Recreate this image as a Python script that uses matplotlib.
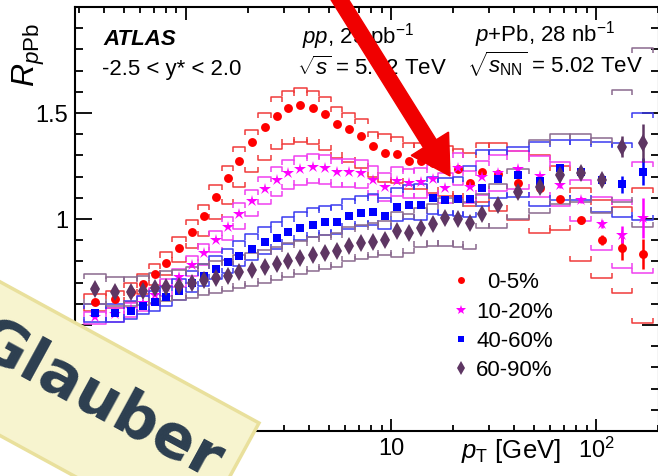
import numpy as np
import matplotlib
matplotlib.use("Agg")
import matplotlib.pyplot as plt
from matplotlib.collections import LineCollection
from matplotlib.patches import Polygon, FancyArrow
from matplotlib.transforms import IdentityTransform
from matplotlib.ticker import FixedLocator, FixedFormatter, NullFormatter

plt.rcParams['font.family'] = ['Liberation Sans', 'DejaVu Sans']
plt.rcParams['mathtext.fontset'] = 'custom'
plt.rcParams['mathtext.rm'] = 'Liberation Sans'
plt.rcParams['mathtext.it'] = 'Liberation Sans:italic'
plt.rcParams['mathtext.bf'] = 'Liberation Sans:bold'

# ---------------- data ----------------
pt_edges = [0.32, 0.41, 0.5, 0.58, 0.66, 0.75, 0.86, 1.0, 1.15, 1.3, 1.5, 1.7, 1.95, 2.25,
            2.6, 2.95, 3.35, 3.9, 4.45, 5.1, 5.8, 6.7, 7.7, 8.7, 10, 11.5, 13, 15, 17, 20,
            22.5, 26, 30, 37, 47, 60, 75, 95, 120, 150, 190]

labels = ['0-5%', '10-20%', '40-60%', '60-90%']

r_0_5 = [0.607, 0.621, 0.656, 0.693, 0.741, 0.791, 0.862, 0.940, 1.014, 1.105, 1.192, 1.274,
         1.361, 1.434, 1.486, 1.524, 1.538, 1.524, 1.495, 1.446, 1.426, 1.392, 1.344, 1.310,
         1.305, 1.272, 1.274, 1.264, 1.250, 1.236, 1.170, 1.220, 1.212, 1.168, 1.145, 1.093,
         0.993, 0.901, 0.862, 0.835]
hi_0_5 = [0.646, 0.662, 0.700, 0.740, 0.790, 0.842, 0.915, 0.995, 1.066, 1.160, 1.250, 1.340,
          1.420, 1.500, 1.575, 1.605, 1.617, 1.605, 1.577, 1.528, 1.500, 1.470, 1.412, 1.400,
          1.385, 1.360, 1.360, 1.345, 1.345, 1.330, 1.310, 1.358, 1.358, 1.320, 1.300, 1.250,
          1.145, 1.090, 1.058, 1.145]
lo_0_5 = [0.565, 0.578, 0.610, 0.645, 0.690, 0.735, 0.795, 0.865, 0.920, 1.000, 1.070, 1.150,
          1.220, 1.280, 1.330, 1.355, 1.365, 1.355, 1.325, 1.290, 1.270, 1.240, 1.200, 1.175,
          1.170, 1.140, 1.140, 1.125, 1.110, 1.100, 1.060, 1.080, 1.040, 0.995, 0.932, 0.950,
          0.800, 0.720, 0.650, 0.510]
st_0_5 = [0.0] * 30 + [0.004, 0.005, 0.006, 0.008, 0.010, 0.012, 0.015, 0.025, 0.055, 0.070]

r_10_20 = [0.539, 0.552, 0.575, 0.605, 0.641, 0.680, 0.725, 0.783, 0.838, 0.901, 0.964, 1.024,
           1.085, 1.142, 1.184, 1.215, 1.237, 1.244, 1.239, 1.223, 1.223, 1.218, 1.184, 1.152,
           1.180, 1.171, 1.173, 1.187, 1.145, 1.239, 1.152, 1.197, 1.216, 1.234, 1.203, 1.160,
           1.090, 0.976, 0.925, 1.003]
hi_10_20 = [0.563, 0.578, 0.603, 0.635, 0.675, 0.715, 0.762, 0.825, 0.880, 0.945, 1.010, 1.075,
            1.138, 1.198, 1.245, 1.278, 1.298, 1.305, 1.300, 1.285, 1.285, 1.280, 1.248, 1.215,
            1.245, 1.238, 1.240, 1.255, 1.215, 1.310, 1.225, 1.275, 1.300, 1.320, 1.295, 1.270,
            1.184, 1.105, 1.090, 1.270]
lo_10_20 = [0.505, 0.515, 0.540, 0.565, 0.600, 0.635, 0.680, 0.730, 0.785, 0.845, 0.900, 0.955,
            1.015, 1.070, 1.110, 1.140, 1.160, 1.168, 1.165, 1.150, 1.150, 1.145, 1.115, 1.085,
            1.110, 1.100, 1.100, 1.115, 1.075, 1.160, 1.075, 1.115, 1.130, 1.140, 1.105, 1.060,
            0.990, 0.854, 0.770, 0.745]
st_10_20 = [0.0] * 30 + [0.004, 0.005, 0.006, 0.008, 0.010, 0.012, 0.015, 0.020, 0.040, 0.094]

r_40_60 = [0.555, 0.555, 0.567, 0.591, 0.610, 0.633, 0.662, 0.700, 0.731, 0.764, 0.796, 0.827,
           0.858, 0.890, 0.912, 0.937, 0.956, 0.972, 0.984, 0.987, 1.014, 1.027, 1.032, 1.014,
           1.055, 1.066, 1.066, 1.098, 1.090, 1.093, 1.093, 1.148, 1.189, 1.208, 1.179, 1.242,
           1.223, 1.184, 1.164, 1.223]
hi_40_60 = [0.599, 0.600, 0.612, 0.638, 0.660, 0.685, 0.716, 0.757, 0.790, 0.826, 0.860, 0.894,
            0.927, 0.960, 0.985, 1.010, 1.033, 1.050, 1.063, 1.066, 1.095, 1.110, 1.118, 1.100,
            1.145, 1.160, 1.165, 1.200, 1.195, 1.200, 1.250, 1.325, 1.325, 1.340, 1.365, 1.373,
            1.373, 1.365, 1.360, 1.500]
lo_40_60 = [0.516, 0.515, 0.528, 0.550, 0.568, 0.590, 0.618, 0.655, 0.684, 0.716, 0.746, 0.776,
            0.805, 0.836, 0.857, 0.882, 0.900, 0.915, 0.926, 0.929, 0.955, 0.967, 0.972, 0.955,
            0.990, 1.000, 0.995, 1.025, 1.020, 1.015, 1.010, 1.060, 1.100, 1.105, 1.060, 1.090,
            1.090, 1.034, 1.010, 0.995]
st_40_60 = [0.0] * 30 + [0.004, 0.005, 0.006, 0.008, 0.010, 0.012, 0.015, 0.020, 0.040, 0.063]

r_60_90 = [0.670, 0.657, 0.654, 0.662, 0.673, 0.681, 0.686, 0.697, 0.712, 0.723, 0.731, 0.751,
           0.759, 0.775, 0.786, 0.803, 0.815, 0.830, 0.838, 0.849, 0.874, 0.885, 0.893, 0.901,
           0.943, 0.932, 0.959, 0.976, 1.003, 0.999, 0.983, 1.024, 1.066, 1.129, 1.152, 1.208,
           1.216, 1.184, 1.341, 1.357]
hi_60_90 = [0.741, 0.728, 0.725, 0.733, 0.745, 0.754, 0.760, 0.772, 0.788, 0.800, 0.808, 0.830,
            0.838, 0.855, 0.866, 0.885, 0.898, 0.915, 0.923, 0.935, 0.962, 0.974, 0.983, 0.990,
            1.035, 1.025, 1.050, 1.070, 1.100, 1.095, 1.080, 1.120, 1.165, 1.235, 1.373, 1.400,
            1.400, 1.380, 1.608, 1.805]
lo_60_90 = [0.600, 0.590, 0.588, 0.595, 0.605, 0.612, 0.617, 0.628, 0.642, 0.652, 0.660, 0.675,
            0.685, 0.700, 0.712, 0.728, 0.740, 0.755, 0.765, 0.775, 0.800, 0.810, 0.820, 0.828,
            0.822, 0.840, 0.870, 0.875, 0.875, 0.870, 0.860, 0.956, 0.956, 1.000, 1.030, 1.070,
            1.080, 1.028, 1.080, 0.964]
st_60_90 = [0.0] * 30 + [0.004, 0.005, 0.006, 0.008, 0.010, 0.012, 0.015, 0.020, 0.050, 0.090]

# ---------------- figure ----------------
W, H = 658, 476
fig = plt.figure(figsize=(W / 100, H / 100), dpi=100)


def fx(px):
    return px / W


def fy(py):
    return 1 - py / H


ax = fig.add_axes([fx(75), fy(431), (659 - 75) / W, (431 - 7) / H])
ax.set_xscale('log')
ax.set_xlim(0.288, 203)
ax.set_ylim(0, 2.0)

edges = np.array(pt_edges)
centers = np.sqrt(edges[:-1] * edges[1:])

series = [
    (r_0_5, hi_0_5, lo_0_5, st_0_5, '#ff0000', '#f03a3a', 'o', 6.4),
    (r_10_20, hi_10_20, lo_10_20, st_10_20, '#ff00ff', '#f040f0', '*', 9.0),
    (r_40_60, hi_40_60, lo_40_60, st_40_60, '#0000ff', '#3a3af0', 's', 6.0),
    (r_60_90, hi_60_90, lo_60_90, st_60_90, '#5e3663', '#8a6a8e', 'd', 8.8),
]

leg = 0.024
for vals, hi, lo, st, col, bcol, mk, ms in series:
    segs = []
    for i in range(len(vals)):
        x0, x1 = edges[i], edges[i + 1]
        segs.append([(x0, hi[i] - leg), (x0, hi[i]), (x1, hi[i]), (x1, hi[i] - leg)])
        segs.append([(x0, lo[i] + leg), (x0, lo[i]), (x1, lo[i]), (x1, lo[i] + leg)])
    ax.add_collection(LineCollection(segs, colors=bcol, linewidths=1.1, zorder=2))

for vals, hi, lo, st, col, bcol, mk, ms in series:
    ax.errorbar(centers, vals, yerr=st, fmt=mk, color=col, ms=ms, mew=0,
                elinewidth=1.8, capsize=0, zorder=4)

# ticks
ax.xaxis.set_major_locator(FixedLocator([1, 10, 100]))
ax.xaxis.set_major_formatter(FixedFormatter(['1', '10', '$10^{2}$']))
ax.xaxis.set_minor_locator(FixedLocator([m * 10.0 ** e for e in (-1, 0, 1, 2) for m in range(2, 10)]))
ax.xaxis.set_minor_formatter(NullFormatter())
ax.yaxis.set_major_locator(FixedLocator([0, 0.5, 1, 1.5, 2.0]))
ax.yaxis.set_major_formatter(FixedFormatter(['0', '0.5', '1', '1.5', '']))
ax.yaxis.set_minor_locator(FixedLocator(np.arange(0, 2.001, 0.1)))
ax.tick_params(which='both', direction='in', top=True, right=True, width=1.3, colors='black')
ax.tick_params(axis='x', which='major', length=9, labelsize=17, pad=5)
ax.tick_params(axis='x', which='minor', length=4.5)
ax.tick_params(axis='y', which='major', length=12, labelsize=17, pad=5)
ax.tick_params(axis='y', which='minor', length=6)
for s in ax.spines.values():
    s.set_linewidth(1.5)

# axis titles
fig.text(fx(11), fy(87), r'$R_{p\mathrm{Pb}}$', rotation=90, ha='left', va='bottom', fontsize=23)
fig.text(fx(561), fy(458), r'$p_{\mathrm{T}}$ [GeV]', ha='right', va='baseline', fontsize=18.5)

# annotations
fig.text(fx(103), fy(45), 'ATLAS', fontweight='bold', fontstyle='italic', fontsize=16, va='baseline')
fig.text(fx(102), fy(75), '-2.5 < y* < 2.0', fontsize=16, va='baseline')
fig.text(fx(302), fy(43), r'$pp$, 25 pb$^{-1}$', fontsize=16, va='baseline')
fig.text(fx(297), fy(75), r'$\sqrt{s}$ = 5.02 TeV', fontsize=16, va='baseline')
fig.text(fx(475), fy(41), r'$p$+Pb, 28 nb$^{-1}$', fontsize=16, va='baseline')
fig.text(fx(467), fy(73), r'$\sqrt{s_{\mathrm{NN}}}$ = 5.02 TeV', fontsize=16, va='baseline')

# legend
leg_rows = [280, 310, 339, 368]
leg_text_x = [487, 476, 476, 476]
leg_ms = [5.0, 7.0, 4.8, 7.0]
for (vals, hi, lo, st, col, bcol, mk, ms), lab, ry, tx, lms in zip(series, labels, leg_rows, leg_text_x, leg_ms):
    fig.add_artist(plt.Line2D([fx(461)], [fy(ry)], marker=mk, color=col, ms=lms, mew=0,
                              linestyle='none', transform=fig.transFigure))
    fig.text(fx(tx), fy(ry), lab, fontsize=16, va='center_baseline')

# "Glauber" banner
ang = np.deg2rad(28.6)
u = np.array([-np.cos(ang), -np.sin(ang)])
v = np.array([-np.sin(ang), np.cos(ang)])
TR = np.array([259.0, 423.0])
Lb, Hb = 440.0, 135.0
corners_img = [TR, TR + Lb * u, TR + Lb * u + Hb * v, TR + Hb * v]
corners_disp = [(c[0], H - c[1]) for c in corners_img]
banner = Polygon(corners_disp, closed=True, facecolor='#f7f4cf', edgecolor='#e9e09c',
                 linewidth=2.5, transform=IdentityTransform(), zorder=20)
fig.add_artist(banner)
fig.text(fx(98), fy(401), 'Glauber', rotation=-28.6, rotation_mode='anchor', ha='center',
         va='center', fontsize=44, fontweight='bold', color='#2c3e50',
         family=['DejaVu Sans'], zorder=21)

# red arrow
sx, sy = 335.0, -8.0
ex, ey = 450.0, 176.0
arrow = FancyArrow(sx, H - sy, ex - sx, -(ey - sy), width=15, head_width=44, head_length=38,
                   length_includes_head=True, color='#f00000', transform=IdentityTransform(),
                   zorder=22)
fig.add_artist(arrow)

fig.savefig('out.png', dpi=100)
